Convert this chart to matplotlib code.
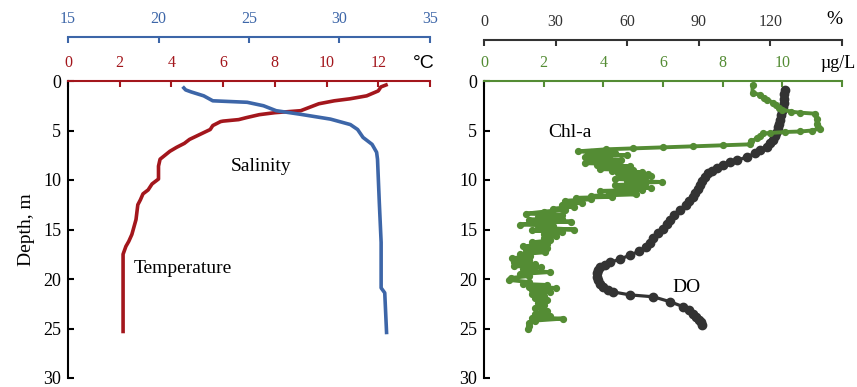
import matplotlib
matplotlib.use("Agg")
import matplotlib.pyplot as plt
import matplotlib.transforms as mtransforms

plt.rcParams["font.family"] = ["Liberation Serif", "DejaVu Serif"]

RED   = "#A3161C"
BLUE  = "#3D66A8"
GREEN = "#548C34"
DARK  = "#333333"

# ── Temperature profile (depth m, degC) ───────────────────
temp_depth = [0.4, 0.6, 1.0, 1.5, 1.8, 2.0, 2.3, 2.7, 3.0, 3.2, 3.4, 3.7, 3.9, 4.05,
              4.1, 4.5, 4.9, 5.4, 5.9, 6.3, 6.7, 7.1, 7.5, 7.9, 8.6, 9.9, 10.4, 11.0,
              11.4, 12.0, 12.5, 14.0, 15.5, 16.2, 16.7, 17.5, 20.0, 22.5, 25.3]
temp_val   = [12.3, 12.1, 12.0, 11.55, 10.9, 10.3, 9.7, 9.3, 9.0, 8.0, 7.4, 6.9, 6.6, 6.0,
              5.9, 5.6, 5.5, 5.1, 4.7, 4.5, 4.2, 3.94, 3.75, 3.56, 3.5, 3.5, 3.25, 3.1,
              2.9, 2.8, 2.7, 2.63, 2.47, 2.35, 2.24, 2.13, 2.13, 2.13, 2.13]

# ── Salinity profile (depth m, psu) ───────────────────────
sal_depth = [0.7, 0.9, 1.1, 1.5, 1.8, 2.0, 2.15, 2.5, 3.0, 3.35, 3.85, 4.1, 4.4, 4.9,
             5.7, 6.4, 7.2, 7.9, 12.3, 16.3, 20.9, 21.4, 25.4]
sal_val   = [21.4, 21.5, 21.8, 22.5, 22.8, 23.0, 24.9, 25.8, 26.5, 27.8, 29.5, 30.0, 30.6, 31.0,
             31.3, 31.8, 32.05, 32.1, 32.2, 32.3, 32.3, 32.5, 32.6]

# ── DO profile (depth m, % saturation) ────────────────────
do_depth = [0.9, 1.3, 1.8, 2.2, 2.6, 3.0, 3.4, 3.9, 4.3, 4.6, 4.95, 5.3, 5.6, 6.0, 6.3,
            6.7, 7.0, 7.3, 7.7, 8.0, 8.2, 8.5, 8.8, 9.1, 9.3, 9.7, 10.1, 10.5, 10.9,
            11.3, 11.7, 12.1, 12.5, 13.0, 13.5, 14.0, 14.4, 14.9, 15.4, 15.9, 16.4,
            16.8, 17.2, 17.6, 18.0, 18.3, 18.6, 18.8, 19.1, 19.4, 19.8, 20.1, 20.5,
            20.8, 21.1, 21.3, 21.6, 21.8, 22.3, 22.8, 23.1, 23.5, 23.8, 24.1, 24.3, 24.6]
do_val   = [126.0, 125.8, 125.6, 125.5, 125.4, 125.0, 124.6, 124.0, 123.6, 123.3, 123.0,
            122.4, 121.8, 121.0, 120.0, 118.5, 115.6, 113.5, 110.0, 106.0, 103.0, 100.0,
            97.5, 95.5, 94.0, 92.5, 91.5, 90.5, 89.6, 88.6, 87.6, 86.0, 84.5, 82.0, 79.5,
            77.8, 76.6, 74.8, 73.0, 71.0, 69.5, 68.0, 65.0, 61.0, 57.0, 53.0, 50.5, 48.6,
            47.8, 47.3, 47.2, 47.6, 48.6, 50.0, 52.0, 54.0, 61.0, 71.0, 78.0, 83.5, 85.8,
            87.6, 89.0, 90.2, 90.8, 91.3]

# ── Chl-a profile (depth m, ug/L) ─────────────────────────
chl_depth = [0.4, 1.2, 1.4, 1.7, 1.9, 2.2, 2.4, 2.7, 2.9, 3.1, 3.2, 3.3, 3.8, 4.3, 4.6,
             4.8, 5.0, 5.1, 5.15, 5.25, 5.3, 5.6, 5.8, 6.1, 6.4, 6.5, 6.6, 6.7, 6.8, 6.9,
             7.1, 7.2, 7.3, 7.4, 7.5, 7.6, 7.7, 7.8, 7.9, 8.0, 8.1, 8.2, 8.3, 8.4, 8.5,
             8.6, 8.7, 8.8, 8.9, 9.0, 9.1, 9.2, 9.3, 9.4, 9.5, 9.6, 9.7, 9.8, 9.9, 10.0,
             10.1, 10.2, 10.3, 10.4, 10.5, 10.6, 10.7, 10.8, 10.9, 11.0, 11.1, 11.2, 11.3,
             11.45, 11.6, 11.7, 11.8, 11.95, 12.1, 12.3, 12.5, 12.7, 12.9, 13.0, 13.2,
             13.4, 13.5, 13.7, 13.9, 14.0, 14.2, 14.3, 14.5, 14.6, 14.8, 15.0, 15.1, 15.3,
             15.5, 15.7, 15.9, 16.1, 16.3, 16.5, 16.7, 16.9, 17.1, 17.3, 17.5, 17.7, 17.9,
             18.1, 18.3, 18.5, 18.7, 18.8, 19.0, 19.2, 19.3, 19.5, 19.7, 19.9, 20.1, 20.3,
             20.5, 20.6, 20.8, 20.9, 21.1, 21.3, 21.5, 21.7, 21.9, 22.1, 22.4, 22.6, 22.9,
             23.2, 23.5, 23.7, 23.9, 24.0, 24.2, 24.4, 24.7, 25.0]
chl_val   = [9.0, 9.0, 9.25, 9.4, 9.5, 9.7, 9.8, 9.9, 10.0, 10.3, 10.6, 11.1, 11.15, 11.15,
             11.2, 11.25, 11.0, 10.6, 10.1, 9.6, 9.35, 9.25, 9.15, 8.95, 8.9, 8.0, 7.0, 6.0,
             5.0, 4.1, 3.15, 3.6, 4.4, 3.5, 4.8, 3.9, 3.4, 4.2, 3.6, 4.6, 3.5, 4.0, 3.4, 4.5,
             3.8, 4.9, 4.0, 4.6, 3.9, 5.0, 4.3, 5.3, 4.5, 5.5, 4.6, 5.6, 4.9, 5.4, 4.4, 5.3,
             4.8, 5.95, 5.0, 5.4, 4.4, 5.2, 4.6, 5.6, 4.5, 5.3, 3.9, 5.0, 4.2, 5.1, 3.6, 4.3,
             3.1, 3.6, 2.7, 3.3, 2.6, 3.0, 2.3, 2.7, 2.0, 1.4, 2.6, 1.8, 2.6, 1.5, 2.9, 2.1,
             1.2, 2.3, 1.8, 3.0, 1.6, 2.6, 2.0, 2.4, 2.0, 2.2, 1.6, 2.1, 1.3, 2.1, 1.4, 2.05,
             1.2, 1.55, 0.95, 1.5, 1.0, 1.7, 1.0, 1.9, 1.3, 1.6, 2.2, 1.2, 1.5, 0.9, 0.85,
             1.5, 1.3, 2.1, 1.5, 2.4, 1.6, 2.2, 1.6, 2.0, 1.7, 2.1, 1.8, 2.0, 1.7, 2.1, 1.7,
             2.2, 1.6, 2.65, 1.7, 1.5, 1.5, 1.48]

depth_ticks = [0, 5, 10, 15, 20, 25, 30]
temp_ticks  = [0, 2, 4, 6, 8, 10, 12, 14]
sal_ticks   = [15, 20, 25, 30, 35]
chl_ticks   = [0, 2, 4, 6, 8, 10, 12]
do_ticks    = [0, 30, 60, 90, 120, 150]

FS_X = 11.5
FS_Y = 13
FS_T = 14

fig = plt.figure(figsize=(8.57, 3.87), dpi=100)
W, H = 857, 387


def top_style(ax, color):
    ax.xaxis.tick_top()
    ax.xaxis.set_label_position("top")
    ax.spines["top"].set_color(color)
    ax.spines["top"].set_linewidth(1.5)
    ax.tick_params(axis="x", colors=color, direction="in", length=4, width=1.5,
                   labelsize=FS_X, pad=7)


def base_axes(left_px, right_px):
    ax = fig.add_axes([left_px / W, 1 - 378 / H, (right_px - left_px) / W, 297 / H])
    ax.set_ylim(30, 0)
    ax.set_yticks(depth_ticks)
    for s in ("bottom", "right"):
        ax.spines[s].set_visible(False)
    ax.spines["left"].set_linewidth(1.5)
    ax.tick_params(axis="y", direction="in", length=4, width=1.5, labelsize=FS_Y, pad=5)
    ax.patch.set_alpha(0)
    return ax


def twin_top(ax, color, offset_pt):
    tw = ax.twiny()
    for s in ("bottom", "right", "left"):
        tw.spines[s].set_visible(False)
    tw.spines["top"].set_position(("outward", offset_pt))
    top_style(tw, color)
    return tw


# ── Left panel: temperature + salinity ────────────────────
ax_t = base_axes(68, 430)
ax_s = twin_top(ax_t, BLUE, 31.7)
top_style(ax_t, RED)

ax_t.set_xlim(0, 14)
ax_t.set_xticks(temp_ticks)
ax_t.set_xticklabels([str(t) for t in temp_ticks[:-1]] + [""])
ax_t.set_ylabel("Depth, m", fontsize=FS_T, labelpad=6)
ax_t.plot(temp_val, temp_depth, color=RED, lw=2.6)
ax_t.text(2.55, 18.9, "Temperature", fontsize=FS_T, va="center", ha="left")
ax_t.text(13.75, 1 - 63 / H, "°C", fontsize=14, color="black", family="Liberation Sans",
          ha="center", va="center",
          transform=mtransforms.blended_transform_factory(ax_t.transData, fig.transFigure))

ax_s.set_xlim(15, 35)
ax_s.set_xticks(sal_ticks)
ax_s.set_ylim(30, 0)
ax_s.plot(sal_val, sal_depth, color=BLUE, lw=2.6)
ax_s.text(24.0, 8.6, "Salinity", fontsize=FS_T, va="center", ha="left")

# ── Right panel: Chl-a + DO ───────────────────────────────
ax_c = base_axes(484, 842)
ax_d = twin_top(ax_c, DARK, 29.5)
top_style(ax_c, GREEN)

ax_c.set_xlim(0, 12)
ax_c.set_xticks(chl_ticks)
ax_c.set_xticklabels([str(t) for t in chl_ticks[:-1]] + [""])
ax_c.text(2.15, 5.25, "Chl-a", fontsize=FS_T, va="center", ha="left")
fig.text(856 / W, 1 - 63 / H, "µg/L", fontsize=13, color="black", ha="right", va="center")

ax_d.set_xlim(0, 150)
ax_d.set_xticks(do_ticks)
ax_d.set_xticklabels([str(t) for t in do_ticks[:-1]] + [""])
ax_d.set_ylim(30, 0)
ax_d.plot(do_val, do_depth, color=DARK, lw=2.3, marker="o", ms=6, zorder=2)
ax_d.text(79, 20.9, "DO", fontsize=FS_T, va="center", ha="left")
ax_d.text(147, 1 - 19 / H, "%", fontsize=14, color="black", ha="center", va="center",
          transform=mtransforms.blended_transform_factory(ax_d.transData, fig.transFigure))

# chl drawn above DO
ax_c.set_zorder(ax_d.get_zorder() + 1)
ax_c.plot(chl_val, chl_depth, color=GREEN, lw=2.8, marker="o", ms=4.2)

fig.savefig("out.png", dpi=100)
